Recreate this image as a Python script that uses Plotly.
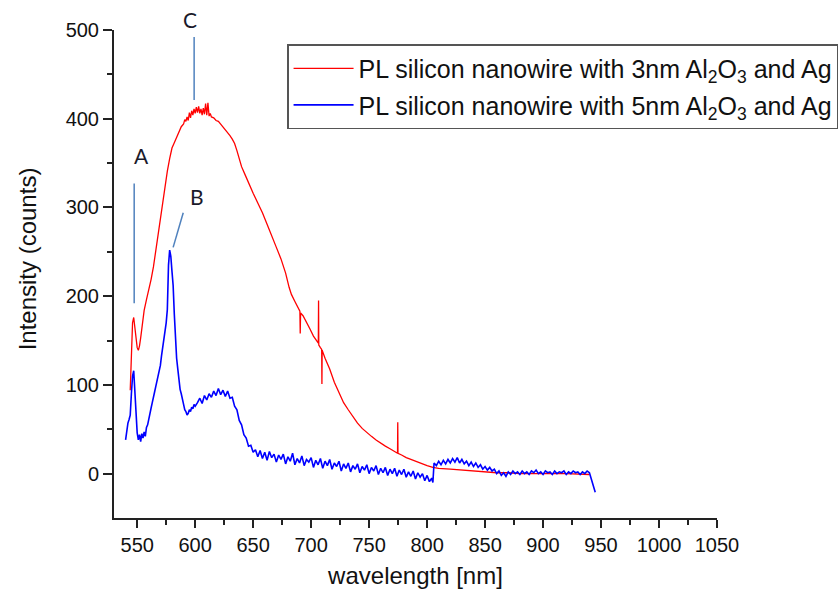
import plotly.graph_objects as go

# ---------------- data ----------------
red_points = [
    (544, 94), (545, 130), (546, 170), (547, 176), (548, 166), (549, 151), (550, 142),
    (551, 139), (552, 144), (553, 153), (554, 166), (555, 176), (556, 184), (558, 196),
    (560, 207), (562, 219), (564, 233), (566, 251), (568, 270), (570, 289), (572, 306),
    (574, 322), (575, 334), (576, 341), (578, 355), (579, 363), (580, 367), (582, 373),
    (584, 379), (586, 384), (588, 391), (590, 394), (591, 399), (592, 397), (593, 402),
    (594, 398), (595, 407), (596, 401), (597, 409), (598, 404), (599, 411), (600, 406),
    (601, 413), (602, 407), (603, 414), (604, 406), (605, 411), (606, 404), (607, 412),
    (608, 405), (609, 417), (610, 404), (611, 418), (612, 403), (613, 406), (614, 402),
    (616, 401), (618, 398), (620, 397), (622, 394), (624, 391), (626, 388), (628, 385),
    (630, 381), (632, 377), (634, 372), (636, 364), (638, 354), (640, 346), (643, 337),
    (646, 327), (650, 316), (654, 305), (658, 294), (662, 281), (666, 267), (670, 255),
    (674, 242), (678, 226), (681, 210), (683, 202), (686, 194), (688, 188), (690.3, 183),
    (690.6, 158), (690.9, 181), (693, 178), (696, 171), (699, 163), (702, 155), (704, 151),
    (706.2, 147), (706.4, 195), (706.6, 145), (708, 142), (709.1, 140), (709.3, 101),
    (709.5, 139), (712, 130), (716, 118), (720, 103), (724, 91), (728, 80), (732, 72),
    (736, 64), (740, 57), (744, 51), (748, 46), (752, 42), (756, 38), (760, 34), (764, 31),
    (768, 28), (772, 25), (774.5, 23), (774.7, 58), (774.9, 23), (778, 21), (782, 18),
    (786, 16), (790, 14), (795, 11), (800, 9), (805, 7), (810, 6), (820, 5), (830, 4),
    (840, 3), (850, 2), (860, 1), (870, 1), (880, 0), (900, 0), (920, 0), (940, -1),
]

blue_points = [
    (540, 38), (541, 50), (542, 57), (543, 61), (544, 66), (545, 90), (546, 110), (547, 116),
    (548, 92), (549, 60), (550, 46), (551, 38), (552, 44), (553, 36), (554, 45), (555, 40),
    (556, 47), (557, 42), (558, 52), (559, 55), (560, 63), (561, 68), (562, 74), (563, 80),
    (564, 88), (565, 92), (566, 98), (567, 104), (568, 110), (569, 116), (570, 122),
    (571, 133), (572, 142), (573, 150), (574, 158), (575, 170), (576, 185), (577, 235),
    (578, 252), (579, 245), (580, 228), (581, 212), (582, 180), (583, 150), (584, 130),
    (585, 118), (586, 105), (587, 95), (588, 90), (589, 82), (590, 78), (591, 72), (592, 70),
    (593, 66), (594, 68), (595, 72), (596, 70), (597, 75), (598, 73), (599, 78), (600, 76),
    (602, 80), (604, 85), (606, 79), (608, 88), (610, 83), (612, 90), (614, 86), (616, 93),
    (618, 88), (620, 96), (622, 89), (624, 94), (626, 87), (628, 93), (630, 85), (632, 86),
    (634, 76), (636, 72), (638, 60), (640, 55), (642, 44), (644, 40), (646, 31), (648, 32),
    (650, 24), (652, 27), (654, 19), (656, 26), (658, 17), (660, 24), (662, 15), (664, 25),
    (666, 18), (668, 22), (670, 13), (672, 21), (674, 16), (676, 22), (678, 11), (680, 19),
    (682, 14), (684, 23), (686, 10), (688, 17), (690, 12), (692, 20), (694, 9), (696, 16),
    (698, 13), (700, 18), (702, 7), (704, 15), (706, 10), (708, 17), (710, 6), (712, 14),
    (714, 9), (716, 16), (718, 5), (720, 12), (722, 8), (724, 14), (726, 3), (728, 11),
    (730, 6), (732, 12), (734, 2), (736, 9), (738, 5), (740, 11), (742, 1), (744, 8),
    (746, 4), (748, 10), (750, 0), (752, 7), (754, 3), (756, 9), (758, -1), (760, 6),
    (762, 1), (764, 7), (766, -2), (768, 5), (770, 0), (772, 6), (774, -3), (776, 4),
    (778, -1), (780, 5), (782, -4), (784, 2), (786, -3), (788, 3), (790, -6), (792, 1),
    (794, -4), (796, 0), (798, -8), (800, -2), (802, -9), (804, -5), (805, -10), (806, 12),
    (808, 9), (810, 14), (812, 10), (814, 15), (816, 11), (818, 16), (820, 12), (822, 17),
    (824, 13), (826, 18), (828, 12), (830, 16), (832, 11), (834, 14), (836, 9), (838, 13),
    (840, 8), (842, 12), (844, 7), (846, 10), (848, 5), (850, 8), (852, 4), (854, 7),
    (856, 3), (858, 5), (860, 0), (862, 3), (864, -2), (866, 1), (868, -3), (870, 2),
    (872, -1), (874, 3), (876, 0), (878, 2), (880, -1), (882, 3), (884, 0), (886, 2),
    (888, -1), (890, 3), (892, 1), (894, 4), (896, 0), (898, 2), (900, -1), (902, 3),
    (904, 1), (906, 2), (908, -1), (910, 3), (912, 0), (914, 2), (916, 1), (918, 3),
    (920, -1), (922, 2), (924, 0), (926, 3), (928, 1), (930, 2), (932, -1), (934, 2),
    (936, 0), (938, 3), (940, 1), (942, -8), (945, -21),
]

red_name = "PL silicon nanowire with 3nm Al<sub>2</sub>O<sub>3</sub> and Ag"
blue_name = "PL silicon nanowire with 5nm Al<sub>2</sub>O<sub>3</sub> and Ag"

x_major = [550, 600, 650, 700, 750, 800, 850, 900, 950, 1000, 1050]
x_minor = [575, 625, 675, 725, 775, 825, 875, 925, 975, 1025]
y_major = [0, 100, 200, 300, 400, 500]
y_minor = [50, 150, 250, 350, 450]

# peak marker lines (data coords): label, x0, y0, x1, y1
peak_lines = [
    ("A", 547.4, 327, 547.4, 192),
    ("B", 589.7, 294, 581.0, 255),
    ("C", 599.1, 492, 599.1, 421),
]
# peak marker letters: label, x (data), y (paper fraction)
peak_labels = [
    ("A", 553.4, 0.742),
    ("B", 601.7, 0.658),
    ("C", 595.7, 1.022),
]

# ---------------- figure ----------------
red_wl = [p[0] for p in red_points]
red_counts = [p[1] for p in red_points]
blue_wl = [p[0] for p in blue_points]
blue_counts = [p[1] for p in blue_points]

fig = go.Figure()
fig.add_trace(go.Scatter(x=red_wl, y=red_counts, mode="lines", name=red_name,
                         legendgroup="g1", line=dict(color="#ff0000", width=1.3)))
fig.add_trace(go.Scatter(x=blue_wl, y=blue_counts, mode="lines", name=blue_name,
                         legendgroup="g2", line=dict(color="#0000ff", width=1.6)))

for lab, x0, y0, x1, y1 in peak_lines:
    fig.add_shape(type="line", xref="x", yref="y", x0=x0, y0=y0, x1=x1, y1=y1,
                  line=dict(color="#4f81bd", width=1.5))
for lab, tx, ty in peak_labels:
    fig.add_annotation(x=tx, y=ty, xref="x", yref="paper", text=lab, showarrow=False,
                       xanchor="center", yanchor="middle",
                       font=dict(family="Lato", size=21, color="#1a1a2a"))

# y-axis title as an annotation (placed like the reference)
fig.add_annotation(x=-0.1443, y=0.532, xref="paper", yref="paper",
                   xanchor="center", yanchor="middle",
                   text="Intensity (counts)", textangle=-90, showarrow=False,
                   font=dict(family="Liberation Sans", size=24, color="#111"))

axis_font = dict(family="Liberation Sans", size=20, color="#111")
title_font = dict(family="Liberation Sans", size=24, color="#111")

fig.update_layout(
    width=838, height=594,
    margin=dict(l=114, r=121, t=30, b=76, autoexpand=False),
    paper_bgcolor="white", plot_bgcolor="white",
    showlegend=True,
    legend=dict(x=0.287, y=0.971, xanchor="left", yanchor="top",
                bordercolor="#555", borderwidth=1.5, bgcolor="white",
                font=dict(family="Liberation Sans", size=25, color="#111"),
                itemwidth=60, tracegroupgap=1),
    xaxis=dict(range=[530, 1050], tickvals=x_major, showgrid=False, zeroline=False,
               showline=True, linecolor="#222", linewidth=2,
               ticks="outside", ticklen=8, tickwidth=2, tickcolor="#222",
               minor=dict(tickvals=x_minor, ticks="outside", ticklen=5, tickwidth=2,
                          tickcolor="#222"),
               tickfont=axis_font,
               title=dict(text="wavelength [nm]", font=title_font, standoff=12)),
    yaxis=dict(range=[-50, 500], tickvals=y_major, showgrid=False, zeroline=False,
               showline=True, linecolor="#222", linewidth=2,
               ticks="outside", ticklen=9, tickwidth=2, tickcolor="#222",
               minor=dict(tickvals=y_minor, ticks="outside", ticklen=5, tickwidth=2,
                          tickcolor="#222"),
               tickfont=axis_font),
)

fig.write_html("out.html")
